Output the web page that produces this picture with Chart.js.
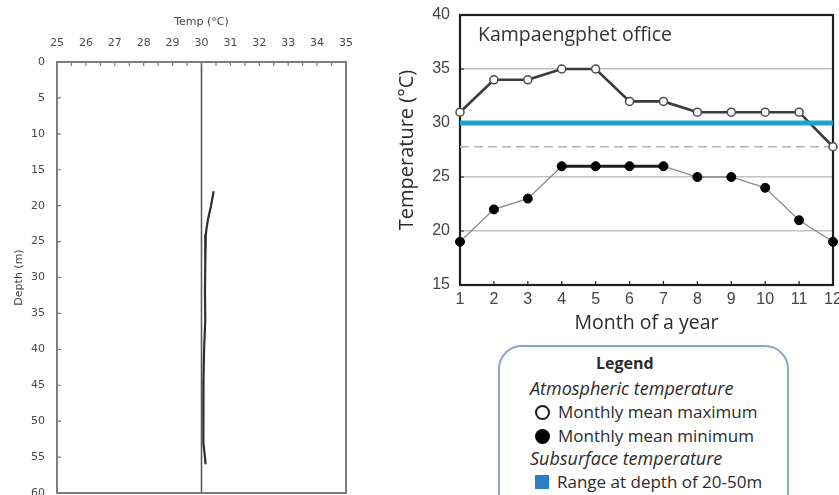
<!DOCTYPE html>
<html>
<head>
<meta charset="utf-8">
<script src="https://cdn.jsdelivr.net/npm/chart.js@4/dist/chart.umd.min.js"></script>
<style>
  html, body { margin: 0; padding: 0; background: #fff; }
  body { position: relative; width: 839px; height: 495px; overflow: hidden; }
  #profileWrap { position: absolute; left: 0; top: 0; }
  #monthlyWrap { position: absolute; left: 390px; top: 0; }
  canvas { display: block; }
  .legend {
    position: absolute; left: 498px; top: 345px; width: 291px; height: 175px;
    box-sizing: border-box; border: 2px solid #8ca6c9; border-radius: 24px;
    font-family: "Open Sans", sans-serif; font-size: 17px; color: #2b2b2b;
  }
  .legend div { position: absolute; line-height: 22px; white-space: nowrap; }
  .legend .head { font-weight: bold; font-size: 16px; }
  .legend .group { font-style: italic; font-size: 18px; }
  .sym { display: inline-block; box-sizing: border-box; vertical-align: middle; margin-right: 8px; position: relative; top: -1px; }
  .sym.open { width: 15px; height: 15px; border: 2px solid #1a1a1a; border-radius: 50%; background: #fff; }
  .sym.filled { width: 15px; height: 15px; border-radius: 50%; background: #000; }
  .sym.square { width: 14px; height: 14px; background: #2b7fc4; }
</style>
</head>
<body>
<div id="profileWrap"><canvas id="profile" width="380" height="512"></canvas></div>
<div id="monthlyWrap"><canvas id="monthly" width="470" height="335"></canvas></div>

<div class="legend">
  <div class="head" style="left:96px; top:5px;">Legend</div>
  <div class="group" style="left:30px; top:30px;">Atmospheric temperature</div>
  <div style="left:35px; top:54px;"><span class="sym open"></span>Monthly mean maximum</div>
  <div style="left:35px; top:78px;"><span class="sym filled"></span>Monthly mean minimum</div>
  <div class="group" style="left:30px; top:100px;">Subsurface temperature</div>
  <div style="left:35px; top:124px;"><span class="sym square"></span>Range at depth of 20-50m</div>
</div>

<script>
// ---- Borehole temperature profile ----
const profileDepth = [18, 20, 22, 23, 24, 28, 32, 36, 40, 44, 50, 53, 55, 56];
const profileTemp  = [30.42, 30.33, 30.22, 30.18, 30.15, 30.13, 30.12, 30.13, 30.09, 30.07, 30.06, 30.07, 30.12, 30.14];
const profileTempTicks = [25, 26, 27, 28, 29, 30, 31, 32, 33, 34, 35];
const depthTicks = [0, 5, 10, 15, 20, 25, 30, 35, 40, 45, 50, 55, 60];
const referenceTemp = 30;

// ---- Monthly air temperature, Kampaengphet office ----
const months = [1, 2, 3, 4, 5, 6, 7, 8, 9, 10, 11, 12];
const monthlyMax = [31, 34, 34, 35, 35, 32, 32, 31, 31, 31, 31, 27.8];
const monthlyMin = [19, 22, 23, 26, 26, 26, 26, 25, 25, 24, 21, 19];
const subsurfaceTemp = 30;
const meanAnnualTemp = 27.8;
const airTempTicks = [15, 20, 25, 30, 35, 40];

const pts = (xs, ys) => xs.map((x, i) => ({ x: x, y: ys[i] }));
const tickList = list => scale => { scale.ticks = list.map(v => ({ value: v })); };

// frame and inward tick marks of the depth profile
const profileFrame = {
  id: 'profileFrame',
  afterDatasetsDraw(chart) {
    const { ctx, chartArea: a, scales: { x, y } } = chart;
    ctx.save();
    ctx.strokeStyle = '#7c7c7c';
    ctx.lineWidth = 2;
    ctx.strokeRect(a.left, a.top, a.right - a.left, a.bottom - a.top);
    ctx.lineWidth = 1.2;
    ctx.beginPath();
    for (let t = profileTempTicks[0]; t <= profileTempTicks[profileTempTicks.length - 1]; t += 0.5) {
      const px = x.getPixelForValue(t);
      ctx.moveTo(px, a.top); ctx.lineTo(px, a.top + 4);
    }
    depthTicks.forEach(d => {
      const py = y.getPixelForValue(d);
      ctx.moveTo(a.left, py); ctx.lineTo(a.left + 4, py);
    });
    ctx.stroke();
    ctx.restore();
  }
};

new Chart(document.getElementById('profile'), {
  type: 'scatter',
  data: {
    datasets: [
      { data: pts(profileTemp, profileDepth), showLine: true, borderColor: '#2e2e2e', borderWidth: 2.2, pointRadius: 0 },
      { data: [{ x: referenceTemp, y: depthTicks[0] }, { x: referenceTemp, y: depthTicks[depthTicks.length - 1] }],
        showLine: true, borderColor: '#5a5a5a', borderWidth: 1.6, pointRadius: 0 }
    ]
  },
  options: {
    responsive: false, animation: false, events: [],
    layout: { padding: { left: 0, right: 34, top: 0, bottom: 19 } },
    plugins: { legend: { display: false }, tooltip: { enabled: false } },
    scales: {
      x: {
        type: 'linear', position: 'top', min: 25, max: 35,
        grid: { display: false, drawTicks: false }, border: { display: false },
        afterBuildTicks: tickList(profileTempTicks),
        afterFit: s => { s.height = 62; },
        ticks: { font: { family: 'DejaVu Sans', size: 11 }, color: '#4a4a4a', padding: 12, maxRotation: 0, autoSkip: false },
        title: { display: true, text: 'Temp (°C)', font: { family: 'DejaVu Sans', size: 11 }, color: '#444', padding: { top: 16, bottom: 0 } }
      },
      y: {
        type: 'linear', reverse: true, min: 0, max: 60,
        grid: { display: false, drawTicks: false }, border: { display: false },
        afterBuildTicks: tickList(depthTicks),
        afterFit: s => { s.width = 57; },
        ticks: { font: { family: 'DejaVu Sans', size: 11 }, color: '#4a4a4a', padding: 12, autoSkip: false },
        title: { display: true, text: 'Depth (m)', font: { family: 'DejaVu Sans', size: 11 }, color: '#444', padding: { top: 13, bottom: 0 } }
      }
    }
  },
  plugins: [profileFrame]
});

// frame, inward ticks and station name of the monthly chart
const monthlyFrame = {
  id: 'monthlyFrame',
  beforeDatasetsDraw(chart) {
    const { ctx, chartArea: a, scales: { x, y } } = chart;
    ctx.save();
    ctx.strokeStyle = '#1e1e1e';
    ctx.lineWidth = 2.2;
    ctx.strokeRect(a.left, a.top, a.right - a.left, a.bottom - a.top);
    ctx.lineWidth = 1.2;
    ctx.beginPath();
    months.forEach(m => {
      const px = x.getPixelForValue(m);
      ctx.moveTo(px, a.bottom); ctx.lineTo(px, a.bottom - 4);
    });
    airTempTicks.forEach(t => {
      const py = y.getPixelForValue(t);
      ctx.moveTo(a.left, py); ctx.lineTo(a.left + 4, py);
    });
    ctx.stroke();
    ctx.fillStyle = '#333';
    ctx.font = '19.5px "Open Sans"';
    ctx.textBaseline = 'middle';
    ctx.fillText('Kampaengphet office', a.left + 18, a.top + 20);
    ctx.restore();
  }
};

const plateau = c => c.p0.parsed.y >= 26 && c.p1.parsed.y >= 26;

new Chart(document.getElementById('monthly'), {
  type: 'line',
  data: {
    datasets: [
      { label: 'Range at depth of 20-50m',
        data: [{ x: months[0], y: subsurfaceTemp }, { x: months[months.length - 1], y: subsurfaceTemp }],
        borderColor: '#1ea2d6', borderWidth: 5, pointRadius: 0, clip: false },
      { label: 'Monthly mean maximum', data: pts(months, monthlyMax),
        borderColor: '#3a3a3a', borderWidth: 2.6,
        pointRadius: 4, pointBackgroundColor: '#fff', pointBorderColor: '#4a4a4a', pointBorderWidth: 1.5, clip: false },
      { label: 'Monthly mean minimum', data: pts(months, monthlyMin),
        borderColor: '#8a8a8a', borderWidth: 1.3,
        segment: {
          borderColor: c => plateau(c) ? '#1e1e1e' : '#8a8a8a',
          borderWidth: c => plateau(c) ? 3 : 1.3
        },
        pointRadius: 4.5, pointBackgroundColor: '#000', pointBorderColor: '#000', pointBorderWidth: 1, clip: false },
      { label: 'Annual mean',
        data: [{ x: months[0], y: meanAnnualTemp }, { x: months[months.length - 1], y: meanAnnualTemp }],
        borderColor: '#b4b4b4', borderWidth: 1.6, borderDash: [9, 5], pointRadius: 0 }
    ]
  },
  options: {
    responsive: false, animation: false, events: [],
    layout: { padding: { left: 0, right: 27, top: 15, bottom: 0 } },
    plugins: { legend: { display: false }, tooltip: { enabled: false } },
    scales: {
      x: {
        type: 'linear', min: 1, max: 12,
        grid: { display: false, drawTicks: false }, border: { display: false },
        afterBuildTicks: tickList(months),
        afterFit: s => { s.height = 50; },
        ticks: { font: { family: 'Liberation Sans', size: 16 }, color: '#444', padding: 5, maxRotation: 0, autoSkip: false },
        title: { display: true, text: 'Month of a year', font: { family: 'Open Sans', size: 19.5 }, color: '#2b2b2b', padding: { top: 0, bottom: 0 } }
      },
      y: {
        type: 'linear', min: 15, max: 40,
        grid: { color: '#c2c2c2', lineWidth: 1.5, drawTicks: false }, border: { display: false },
        afterBuildTicks: tickList(airTempTicks),
        afterFit: s => { s.width = 70; s.paddingTop = 0; s.paddingBottom = 0; },
        ticks: { font: { family: 'Liberation Sans', size: 16 }, color: '#444', padding: 10, autoSkip: false },
        title: { display: true, text: 'Temperature (°C)', font: { family: 'Open Sans', size: 20 }, color: '#2b2b2b', padding: { top: 5, bottom: 0 } }
      }
    }
  },
  plugins: [monthlyFrame]
});
</script>
</body>
</html>
